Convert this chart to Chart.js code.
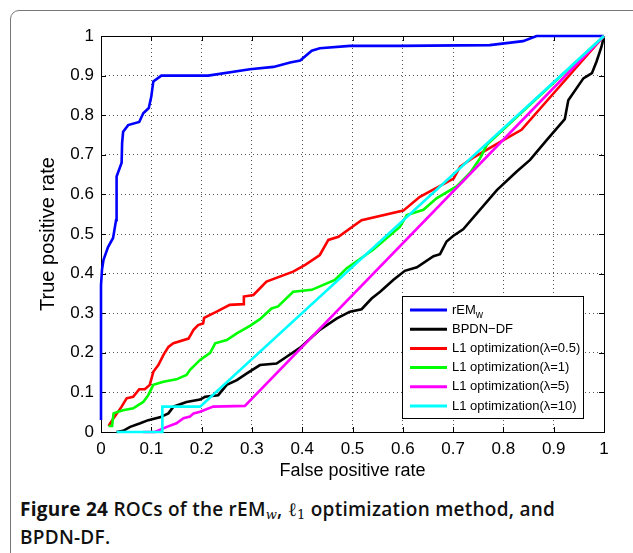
<!DOCTYPE html>
<html><head><meta charset="utf-8">
<script src="https://cdn.jsdelivr.net/npm/chart.js@4/dist/chart.umd.min.js"></script>
<style>
html,body{margin:0;padding:0;background:#fff;width:633px;height:553px;overflow:hidden;}
#card{position:absolute;left:10px;top:10px;width:700px;height:700px;border:1px solid #777;border-radius:9px;}
#wrap{position:absolute;left:0;top:0;width:633px;height:490px;}
#cap{position:absolute;left:20px;top:495px;font-family:"Open Sans",sans-serif;font-size:19px;line-height:28px;color:#111;font-weight:600;white-space:nowrap;letter-spacing:0.25px;}
#cap b{font-weight:700;}
#cap sub{font-size:13px;vertical-align:-3px;line-height:0;}
.m{font-family:"DejaVu Serif",serif;font-style:italic;font-weight:400;}
</style></head>
<body>
<div id="card"></div>
<div id="wrap"><canvas id="c" width="633" height="490"></canvas></div>
<div id="cap"><b>Figure 24</b> ROCs of the rEM<sub class="m">w</sub>, <span class="m" style="font-style:normal">ℓ</span><sub class="m" style="font-style:normal">1</sub> optimization method, and<br>BPDN-DF.</div>
<script>
// ---- data ----
const xTickLabels = ['0','0.1','0.2','0.3','0.4','0.5','0.6','0.7','0.8','0.9','1'];
const yTickLabels = ['0','0.1','0.2','0.3','0.4','0.5','0.6','0.7','0.8','0.9','1'];
const seriesNames = ['rEM_w','BPDN\u2212DF','L1 optimization(\u03bb=0.5)','L1 optimization(\u03bb=1)','L1 optimization(\u03bb=5)','L1 optimization(\u03bb=10)'];
const seriesColors = ['#0000ff','#000000','#ff0000','#00ff00','#ff00ff','#00ffff'];

const remX = [0, 0, 0.002, 0.005, 0.014, 0.024, 0.03, 0.031, 0.041, 0.042, 0.044, 0.054, 0.076, 0.084, 0.095, 0.1, 0.104, 0.12, 0.213, 0.296, 0.343, 0.376, 0.396, 0.419, 0.435, 0.495, 0.594, 0.773, 0.839, 0.866, 1];
const remY = [0.03, 0.37, 0.41, 0.435, 0.467, 0.49, 0.535, 0.645, 0.68, 0.73, 0.758, 0.775, 0.783, 0.805, 0.818, 0.847, 0.885, 0.9, 0.9, 0.916, 0.922, 0.933, 0.938, 0.963, 0.969, 0.975, 0.975, 0.977, 0.987, 1.0, 1.0];

const bpX = [0.031, 0.044, 0.058, 0.078, 0.094, 0.117, 0.134, 0.144, 0.17, 0.197, 0.207, 0.233, 0.25, 0.27, 0.29, 0.316, 0.349, 0.369, 0.396, 0.435, 0.469, 0.495, 0.518, 0.538, 0.555, 0.581, 0.604, 0.628, 0.661, 0.674, 0.687, 0.7, 0.72, 0.787, 0.826, 0.853, 0.886, 0.922, 0.929, 0.959, 0.976, 0.985, 0.995, 1];
const bpY = [0, 0.003, 0.013, 0.022, 0.03, 0.037, 0.047, 0.064, 0.076, 0.082, 0.089, 0.093, 0.119, 0.131, 0.148, 0.169, 0.173, 0.19, 0.213, 0.258, 0.287, 0.304, 0.31, 0.337, 0.354, 0.384, 0.407, 0.416, 0.444, 0.449, 0.481, 0.495, 0.512, 0.611, 0.657, 0.687, 0.737, 0.79, 0.838, 0.893, 0.906, 0.935, 0.973, 1];

const l05X = [0.015, 0.025, 0.041, 0.051, 0.064, 0.076, 0.087, 0.097, 0.104, 0.114, 0.124, 0.134, 0.144, 0.174, 0.184, 0.193, 0.203, 0.205, 0.23, 0.256, 0.283, 0.284, 0.303, 0.329, 0.382, 0.406, 0.435, 0.452, 0.472, 0.518, 0.601, 0.634, 0.701, 0.714, 0.74, 0.8, 0.836, 1];
const l05Y = [0.015, 0.035, 0.064, 0.085, 0.089, 0.108, 0.108, 0.119, 0.152, 0.169, 0.194, 0.215, 0.224, 0.236, 0.258, 0.27, 0.274, 0.288, 0.304, 0.321, 0.323, 0.342, 0.346, 0.38, 0.405, 0.422, 0.447, 0.485, 0.493, 0.535, 0.559, 0.594, 0.64, 0.67, 0.693, 0.737, 0.763, 1];

const l1X = [0.015, 0.022, 0.025, 0.034, 0.044, 0.064, 0.074, 0.084, 0.094, 0.104, 0.124, 0.15, 0.17, 0.177, 0.197, 0.217, 0.227, 0.25, 0.27, 0.296, 0.316, 0.339, 0.352, 0.382, 0.419, 0.465, 0.488, 0.541, 0.594, 0.608, 0.641, 0.667, 0.707, 0.734, 0.753, 0.767, 1];
const l1Y = [0.015, 0.015, 0.047, 0.051, 0.055, 0.06, 0.068, 0.076, 0.093, 0.119, 0.127, 0.133, 0.144, 0.157, 0.182, 0.2, 0.224, 0.232, 0.249, 0.268, 0.285, 0.312, 0.317, 0.354, 0.359, 0.384, 0.413, 0.46, 0.518, 0.548, 0.561, 0.59, 0.62, 0.655, 0.69, 0.725, 1];

const l5X = [0.084, 0.107, 0.131, 0.15, 0.164, 0.177, 0.184, 0.197, 0.223, 0.286, 1];
const l5Y = [0, 0, 0.013, 0.022, 0.035, 0.039, 0.047, 0.051, 0.064, 0.066, 1];

const l10X = [0.031, 0.122, 0.122, 0.197, 1];
const l10Y = [0, 0, 0.064, 0.064, 1];

const seriesX = [remX, bpX, l05X, l1X, l5X, l10X];
const seriesY = [remY, bpY, l05Y, l1Y, l5Y, l10Y];

const datasets = seriesX.map((xs, i) => ({
  label: seriesNames[i],
  data: xs.map((x, j) => ({x: x, y: seriesY[i][j]})),
  borderColor: seriesColors[i],
  backgroundColor: seriesColors[i],
  borderWidth: 2.6,
  pointRadius: 0,
  showLine: true,
  tension: 0,
  fill: false,
  clip: false,
  order: 5 - i
}));

const FONT = 'Liberation Sans';

const framePlugin = {
  id: 'frame',
  beforeDatasetsDraw(chart) {
    const {ctx, chartArea: a, scales} = chart;
    ctx.save();
    ctx.strokeStyle = '#000';
    ctx.lineWidth = 1;
    ctx.strokeRect(a.left + 0.5, a.top + 0.5, a.right - a.left, a.bottom - a.top);
    ctx.beginPath();
    const tl = 5;
    scales.x.ticks.forEach(t => {
      const px = Math.round(scales.x.getPixelForValue(t.value)) + 0.5;
      ctx.moveTo(px, a.bottom); ctx.lineTo(px, a.bottom - tl);
      ctx.moveTo(px, a.top); ctx.lineTo(px, a.top + tl);
    });
    scales.y.ticks.forEach(t => {
      const py = Math.round(scales.y.getPixelForValue(t.value)) + 0.5;
      ctx.moveTo(a.left, py); ctx.lineTo(a.left + tl, py);
      ctx.moveTo(a.right, py); ctx.lineTo(a.right - tl, py);
    });
    ctx.stroke();
    ctx.restore();
  }
};

const legendPlugin = {
  id: 'boxLegend',
  afterDatasetsDraw(chart) {
    const {ctx, chartArea: a} = chart;
    const right = a.right - 21, bottom = a.bottom - 14;
    const left = right - 181, top = bottom - 122;
    ctx.save();
    ctx.fillStyle = '#fff';
    ctx.fillRect(left, top, right - left, bottom - top);
    ctx.strokeStyle = '#000';
    ctx.lineWidth = 1;
    ctx.strokeRect(Math.round(left) + 0.5, Math.round(top) + 0.5, Math.round(right - left), Math.round(bottom - top));
    ctx.textBaseline = 'middle';
    ctx.textAlign = 'left';
    seriesNames.forEach((name, i) => {
      const y = top + 14 + i * 19.2;
      ctx.strokeStyle = seriesColors[i];
      ctx.lineWidth = 3;
      ctx.beginPath();
      ctx.moveTo(left + 8, y); ctx.lineTo(left + 45, y);
      ctx.stroke();
      ctx.fillStyle = '#000';
      ctx.font = '13px "' + FONT + '"';
      const parts = name.split('_');
      ctx.fillText(parts[0], left + 50, y);
      if (parts[1]) {
        const w = ctx.measureText(parts[0]).width;
        ctx.font = '10px "' + FONT + '"';
        ctx.fillText(parts[1], left + 50 + w, y + 5);
      }
    });
    ctx.restore();
  }
};

const tickFont = {family: FONT, size: 17};
new Chart(document.getElementById('c'), {
  type: 'scatter',
  data: {datasets},
  options: {
    responsive: false,
    animation: false,
    devicePixelRatio: 1,
    layout: {padding: {left: 0, top: 36, right: 29, bottom: 0}},
    plugins: {legend: {display: false}, tooltip: {enabled: false}},
    scales: {
      x: {
        type: 'linear', min: 0, max: 1,
        ticks: {stepSize: 0.1, padding: 7, color: '#000', font: tickFont, autoSkip: false, maxRotation: 0,
          callback: (v, i) => xTickLabels[i]},
        grid: {color: '#555', drawTicks: false, lineWidth: 1},
        border: {display: false, dash: [1, 3]},
        title: {display: true, text: 'False positive rate', color: '#000', font: {family: FONT, size: 18}, padding: {top: 0, bottom: 8}},
        afterFit: s => { s.height = 58; }
      },
      y: {
        type: 'linear', min: 0, max: 1,
        ticks: {stepSize: 0.1, padding: 7, color: '#000', font: tickFont, autoSkip: false,
          callback: (v, i) => yTickLabels[i]},
        grid: {color: '#555', drawTicks: false, lineWidth: 1},
        border: {display: false, dash: [1, 3]},
        title: {display: true, text: 'True positive rate', color: '#000', font: {family: FONT, size: 20}, padding: {top: 36, bottom: 0}},
        afterFit: s => { s.width = 101; }
      }
    }
  },
  plugins: [framePlugin, legendPlugin]
});
</script>
</body></html>
